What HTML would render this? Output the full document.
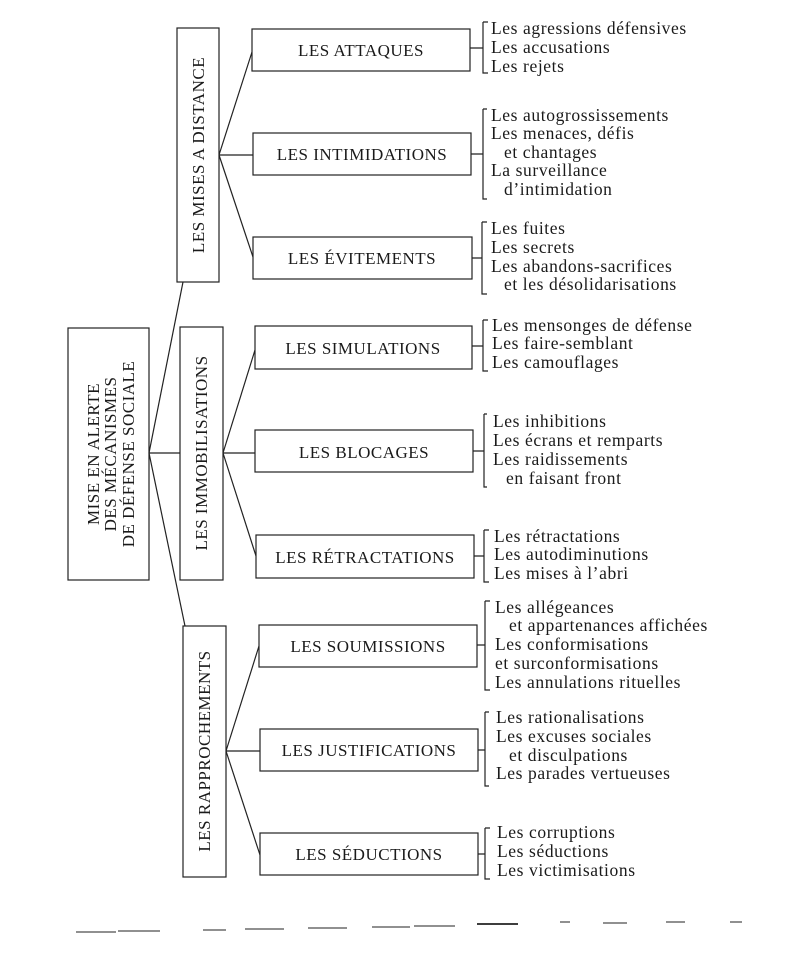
<!DOCTYPE html>
<html><head><meta charset="utf-8"><style>
html,body{margin:0;padding:0;background:#fff;}
svg{display:block;}
text{font-family:"Liberation Serif",serif;fill:#1a1a1a;}
.b{font-size:17px;letter-spacing:0.5px;}
.l{font-size:17.5px;letter-spacing:0.6px;}
</style></head><body>
<svg width="785" height="960" viewBox="0 0 785 960" xmlns="http://www.w3.org/2000/svg">
<g fill="none" stroke="#222" stroke-width="1.2">
<rect x="68" y="328" width="81" height="252"/>
<rect x="177" y="28" width="42" height="254"/>
<rect x="180" y="327" width="43" height="253"/>
<rect x="183" y="626" width="43" height="251"/>
<rect x="252" y="29" width="218" height="42"/>
<rect x="253" y="133" width="218" height="42"/>
<rect x="253" y="237" width="219" height="42"/>
<rect x="255" y="326" width="217" height="43"/>
<rect x="255" y="430" width="218" height="42"/>
<rect x="256" y="535" width="218" height="43"/>
<rect x="259" y="625" width="218" height="42"/>
<rect x="260" y="729" width="218" height="42"/>
<rect x="260" y="833" width="218" height="42"/>
<line x1="149" y1="453" x2="183" y2="282"/>
<line x1="149" y1="453" x2="180" y2="453"/>
<line x1="149" y1="453" x2="185" y2="626"/>
<line x1="219" y1="155" x2="252" y2="52"/>
<line x1="219" y1="155" x2="253" y2="155"/>
<line x1="219" y1="155" x2="253" y2="257"/>
<line x1="223" y1="453" x2="255" y2="350"/>
<line x1="223" y1="453" x2="255" y2="453"/>
<line x1="223" y1="453" x2="256" y2="556"/>
<line x1="226" y1="751" x2="259" y2="646"/>
<line x1="226" y1="751" x2="260" y2="751"/>
<line x1="226" y1="751" x2="260" y2="855"/>
<path d="M470 48H483M483 22H488M483 22V73H488"/>
<path d="M471 154H483M483 109H487M483 109V199H487"/>
<path d="M472 258H482M482 222H487M482 222V294H487"/>
<path d="M472 346H483M483 320H488M483 320V371H488"/>
<path d="M473 451H484M484 414H487M484 414V487H487"/>
<path d="M474 556H484M484 530H489M484 530V582H489"/>
<path d="M477 645H485M485 601H490M485 601V690H490"/>
<path d="M478 750H485M485 712H489M485 712V786H489"/>
<path d="M478 854H485M485 828H490M485 828V879H490"/>
<path stroke-width="1" d="M76 932H116M118 931H160M203 930H226M245 929H284M308 928H347M372 927H410M414 926H455M560 922H570M603 923H627M666 922H685M730 922H742"/>
<path stroke-width="1.8" d="M477 924H518"/>
</g>
<g class="b" text-anchor="middle">
<text transform="translate(99,454) rotate(-90)">MISE EN ALERTE</text>
<text transform="translate(116,454) rotate(-90)">DES MÉCANISMES</text>
<text transform="translate(134,454) rotate(-90)">DE DÉFENSE SOCIALE</text>
<text transform="translate(204,155) rotate(-90)">LES MISES A DISTANCE</text>
<text transform="translate(207,453) rotate(-90)">LES IMMOBILISATIONS</text>
<text transform="translate(210,751) rotate(-90)">LES RAPPROCHEMENTS</text>
<text x="361" y="56">LES ATTAQUES</text>
<text x="362" y="160">LES INTIMIDATIONS</text>
<text x="362" y="264">LES ÉVITEMENTS</text>
<text x="363" y="354">LES SIMULATIONS</text>
<text x="364" y="458">LES BLOCAGES</text>
<text x="365" y="563">LES RÉTRACTATIONS</text>
<text x="368" y="652">LES SOUMISSIONS</text>
<text x="369" y="756">LES JUSTIFICATIONS</text>
<text x="369" y="860">LES SÉDUCTIONS</text>
</g>
<g class="l">
<text x="491" y="34">Les agressions défensives</text>
<text x="491" y="53">Les accusations</text>
<text x="491" y="72">Les rejets</text>
<text x="491" y="121">Les autogrossissements</text>
<text x="491" y="139">Les menaces, défis</text>
<text x="504" y="158">et chantages</text>
<text x="491" y="176">La surveillance</text>
<text x="504" y="195">d’intimidation</text>
<text x="491" y="234">Les fuites</text>
<text x="491" y="253">Les secrets</text>
<text x="491" y="272">Les abandons-sacrifices</text>
<text x="504" y="290">et les désolidarisations</text>
<text x="492" y="331">Les mensonges de défense</text>
<text x="492" y="349">Les faire-semblant</text>
<text x="492" y="368">Les camouflages</text>
<text x="493" y="427">Les inhibitions</text>
<text x="493" y="446">Les écrans et remparts</text>
<text x="493" y="465">Les raidissements</text>
<text x="506" y="484">en faisant front</text>
<text x="494" y="542">Les rétractations</text>
<text x="494" y="560">Les autodiminutions</text>
<text x="494" y="579">Les mises à l’abri</text>
<text x="495" y="613">Les allégeances</text>
<text x="509" y="631">et appartenances affichées</text>
<text x="495" y="650">Les conformisations</text>
<text x="495" y="669">et surconformisations</text>
<text x="495" y="688">Les annulations rituelles</text>
<text x="496" y="723">Les rationalisations</text>
<text x="496" y="742">Les excuses sociales</text>
<text x="509" y="761">et disculpations</text>
<text x="496" y="779">Les parades vertueuses</text>
<text x="497" y="838">Les corruptions</text>
<text x="497" y="857">Les séductions</text>
<text x="497" y="876">Les victimisations</text>
</g>
</svg>
</body></html>
